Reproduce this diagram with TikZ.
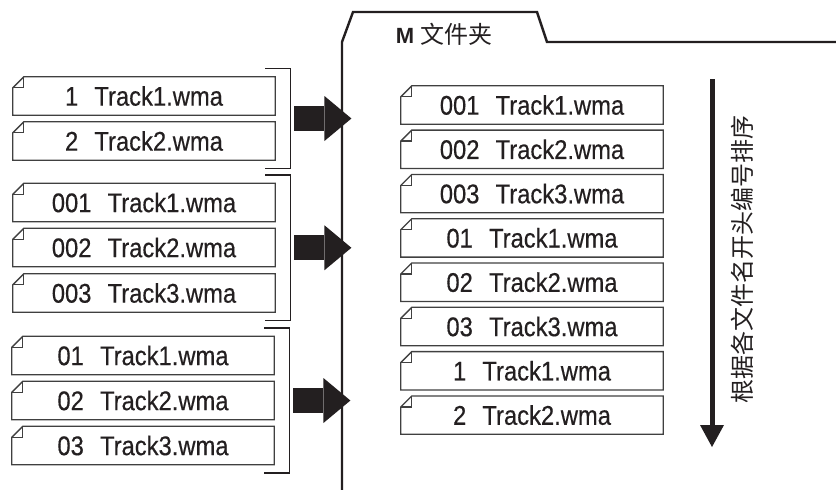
\documentclass[tikz,border=0pt]{standalone}
\usepackage{fontspec}
\setmainfont{Liberation Sans}
\newfontfamily\trackfont[FakeStretch=0.88, FakeBold=0.4]{Liberation Sans}
\newfontfamily\cjkfont{Noto Sans CJK SC}
\usetikzlibrary{arrows.meta, fit}
\definecolor{ink}{HTML}{231F20}

\begin{document}
\begin{tikzpicture}[x=1pt, y=-1pt,
	every node/.style={inner sep=0pt, text=ink},
	file/.style={
		minimum width=262pt,
		minimum height=38pt,
		font=\trackfont\fontsize{27}{30}\selectfont
	},
	fileline/.style={draw=black!75, line width=1.3pt, line join=miter},
	group/.style={inner xsep=15pt, inner ysep=8pt},
	bracket/.style={draw=ink, line width=1.3pt},
	bigarrow/.style={-{Triangle[length=27pt, width=45pt, line width=0pt]}, line width=25pt, color=ink},
	sortarrow/.style={-{Triangle[length=22pt, width=24pt, line width=0pt]}, line width=5pt, color=ink},
	folder/.style={draw=ink, line width=2.4pt, line join=miter},
	title/.style={font=\fontsize{22}{25}\selectfont},
	sortlabel/.style={font=\cjkfont\fontsize{24}{28}\selectfont}
	]
	\useasboundingbox (0,0) rectangle (836,490);
	
	% Folder outline with tab
	\draw[folder] (342,490) -- (342,42) -- (353,12) -- (537,12) -- (547,42) -- (836,42);
	\node[title] (folderTitle) at (444,34) {\textbf{M}\hspace{6pt}{\cjkfont\fontsize{24}{26}\selectfont 文件夹}};
	
	% Files before sorting
	\node[file] (a1) at (144,96) {1\hspace{.6em}Track1.wma};
	\node[file] (a2) at (144,141) {2\hspace{.6em}Track2.wma};
	
	\node[file] (b1) at (144,202.5) {001\hspace{.6em}Track1.wma};
	\node[file] (b2) at (144,247.5) {002\hspace{.6em}Track2.wma};
	\node[file] (b3) at (144,293) {003\hspace{.6em}Track3.wma};
	
	\node[file] (c1) at (143,355.5) {01\hspace{.6em}Track1.wma};
	\node[file] (c2) at (143,400.5) {02\hspace{.6em}Track2.wma};
	\node[file] (c3) at (143,445.5) {03\hspace{.6em}Track3.wma};
	
	% Files inside the folder
	\node[file] (r1) at (532,105) {001\hspace{.6em}Track1.wma};
	\node[file] (r2) at (532,149.3) {002\hspace{.6em}Track2.wma};
	\node[file] (r3) at (532,193.6) {003\hspace{.6em}Track3.wma};
	\node[file] (r4) at (532,237.9) {01\hspace{.6em}Track1.wma};
	\node[file] (r5) at (532,282.2) {02\hspace{.6em}Track2.wma};
	\node[file] (r6) at (532,326.5) {03\hspace{.6em}Track3.wma};
	\node[file] (r7) at (532,370.8) {1\hspace{.6em}Track1.wma};
	\node[file] (r8) at (532,415.1) {2\hspace{.6em}Track2.wma};
	
	% File outlines with folded corner
	\foreach \f in {a1,a2,b1,b2,b3,c1,c2,c3,r1,r2,r3,r4,r5,r6,r7,r8} {
		\draw[fileline] ([xshift=11pt]\f.north west) -- (\f.north east) -- (\f.south east)
			-- (\f.south west) -- ([yshift=-11pt]\f.north west) -- cycle;
		\draw[fileline] ([yshift=-11pt]\f.north west) -- ([shift={(11pt,-11pt)}]\f.north west)
			-- ([xshift=11pt]\f.north west);
	}
	
	% Groups and brackets
	\node[group, fit=(a1)(a2)] (grpA) {};
	\node[group, fit=(b1)(b3)] (grpB) {};
	\node[group, fit=(c1)(c3)] (grpC) {};
	\foreach \g in {grpA,grpB,grpC} {
		\draw[bracket] ([xshift=-25pt]\g.north east) -- (\g.north east) -- (\g.south east) -- ([xshift=-25pt]\g.south east);
		\draw[bigarrow] ([xshift=4pt]\g.east) -- ([xshift=61pt]\g.east);
	}
	
	% Sorting direction
	\coordinate (sortTop) at (712,79);
	\coordinate (sortEnd) at (712,447);
	\draw[sortarrow] (sortTop) -- (sortEnd);
	\node[sortlabel, rotate=90] (sortLabel) at (742,259) {根据各文件名开头编号排序};
	
\end{tikzpicture}
\end{document}
